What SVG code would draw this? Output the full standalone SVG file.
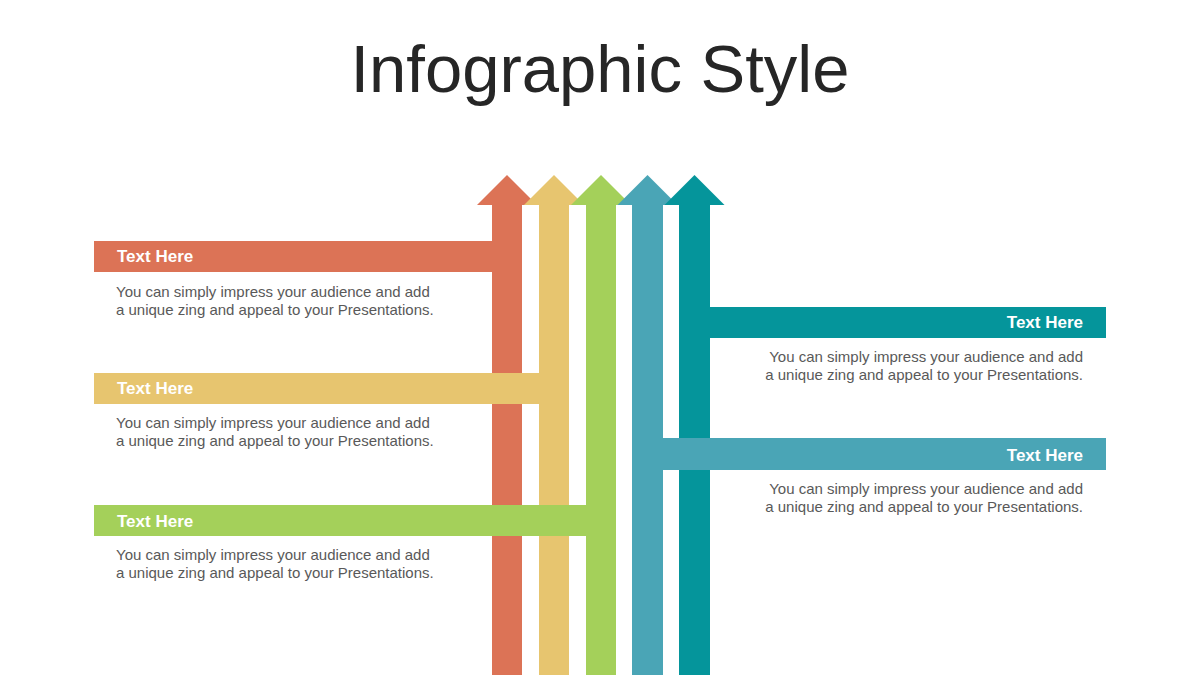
<svg xmlns="http://www.w3.org/2000/svg" width="1200" height="675" viewBox="0 0 1200 675">
<style>
.title{font-family:"Liberation Sans",Arial,sans-serif;font-size:67px;fill:#262626}
.hd{font-family:"Liberation Sans",Arial,sans-serif;font-size:17px;font-weight:bold;fill:#ffffff}
.bd{font-family:"Liberation Sans",Arial,sans-serif;font-size:15px;fill:#595959}
.r{text-anchor:end}
.c1{fill:#DC7356}.c2{fill:#E7C56F}.c3{fill:#A4D05A}.c4{fill:#4AA5B6}.c5{fill:#05959B}
</style>
<rect width="1200" height="675" fill="#ffffff"/>
<text class="title" x="600" y="92" text-anchor="middle">Infographic Style</text>
<g id="connectors">
<polygon class="c1" points="477,205 507,175 537,205 522,205 522,675 492,675 492,205"/>
<polygon class="c2" points="524,205 554,175 584,205 569,205 569,675 539,675 539,205"/>
<polygon class="c3" points="571,205 601,175 631,205 616,205 616,675 586,675 586,205"/>
<polygon class="c4" points="617.5,205 647.5,175 677.5,205 663,205 663,675 632,675 632,205"/>
<polygon class="c5" points="664.5,205 694.5,175 724.5,205 710,205 710,675 679,675 679,205"/>
</g>
<g id="node-orange">
<rect class="c1" x="94" y="241" width="398" height="31"/>
<text class="hd" x="117" y="262">Text Here</text>
<text class="bd" x="116" y="297">You can simply impress your audience and add</text>
<text class="bd" x="116" y="315">a unique zing and appeal to your Presentations.</text>
</g>
<g id="node-yellow">
<rect class="c2" x="94" y="373" width="475" height="31"/>
<text class="hd" x="117" y="394">Text Here</text>
<text class="bd" x="116" y="428">You can simply impress your audience and add</text>
<text class="bd" x="116" y="446">a unique zing and appeal to your Presentations.</text>
</g>
<g id="node-green">
<rect class="c3" x="94" y="505" width="522" height="31"/>
<text class="hd" x="117" y="527">Text Here</text>
<text class="bd" x="116" y="560">You can simply impress your audience and add</text>
<text class="bd" x="116" y="578">a unique zing and appeal to your Presentations.</text>
</g>
<g id="node-teal">
<rect class="c5" x="710" y="307" width="396" height="31"/>
<text class="hd r" x="1083" y="328">Text Here</text>
<text class="bd r" x="1083" y="362">You can simply impress your audience and add</text>
<text class="bd r" x="1083" y="380">a unique zing and appeal to your Presentations.</text>
</g>
<g id="node-blue">
<rect class="c4" x="632" y="438" width="474" height="32"/>
<text class="hd r" x="1083" y="461">Text Here</text>
<text class="bd r" x="1083" y="494">You can simply impress your audience and add</text>
<text class="bd r" x="1083" y="512">a unique zing and appeal to your Presentations.</text>
</g>
</svg>
